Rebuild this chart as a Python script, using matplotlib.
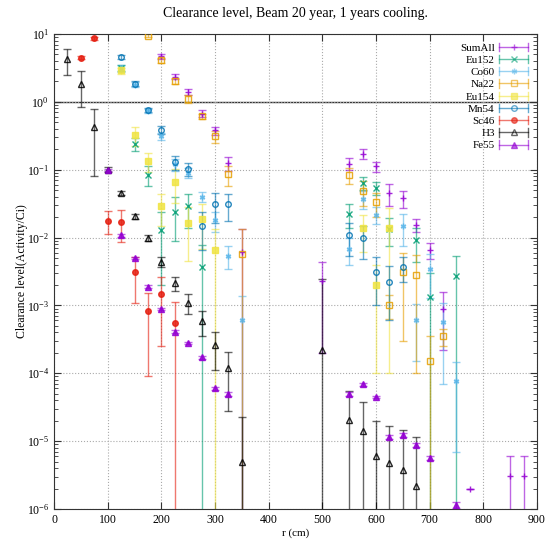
import numpy as np
import matplotlib
matplotlib.use('Agg')
import matplotlib.pyplot as plt
from matplotlib.lines import Line2D
from matplotlib.legend_handler import HandlerLine2D
from matplotlib.ticker import LogLocator, NullFormatter, MultipleLocator

# ---- data (r in cm, value, symmetric error) ----
sum_r = [200, 225, 250, 275, 300, 325, 350, 500, 550, 575, 600, 625, 650, 675, 700, 725, 775, 850, 875]
sum_v = [4.7, 2.35, 1.4, 0.67, 0.38, 0.125, 0.0062, 0.0023, 0.123, 0.172, 0.112, 0.045, 0.038,
         0.0155, 0.0065, 0.0009, 2.0e-6, 3.1e-6, 3.1e-6]
sum_e = [0.35, 0.2, 0.15, 0.08, 0.05, 0.03, 0.0072, 0.0021, 0.024, 0.028, 0.02, 0.016, 0.011,
         0.0035, 0.0017, 0.00068, 0.0, 3.0e-6, 3.0e-6]

eu152_r = [125, 150, 175, 200, 225, 250, 275, 550, 575, 600, 625, 675, 700, 750]
eu152_v = [3.2, 0.24, 0.085, 0.013, 0.024, 0.029, 0.0037, 0.0225, 0.064, 0.054, 0.0135, 0.0091, 0.00135, 0.0027]
eu152_e = [0.35, 0.05, 0.027, 0.011, 0.015, 0.015, 0.004, 0.0085, 0.013, 0.012, 0.006, 0.0047, 0.0017, 0.0027]

co60_r = [125, 150, 175, 200, 225, 250, 275, 300, 325, 350, 550, 575, 600, 650, 675, 700, 725, 750]
co60_v = [3.1, 1.8, 0.74, 0.31, 0.12, 0.09, 0.04, 0.018, 0.0054, 0.0006, 0.0069, 0.037, 0.0218,
          0.015, 0.0006, 0.0035, 0.00057, 0.000077]
co60_e = [0.35, 0.15, 0.05, 0.04, 0.025, 0.015, 0.007, 0.006, 0.002, 0.00077, 0.003, 0.011, 0.006,
          0.0075, 0.00045, 0.0022, 0.0005, 0.00007]

na22_r = [175, 200, 225, 250, 275, 300, 325, 350, 550, 575, 600, 625, 650, 675, 700, 725]
na22_v = [9.4, 4.1, 2.05, 1.12, 0.61, 0.31, 0.086, 0.0058, 0.084, 0.049, 0.033, 0.00103, 0.0031,
          0.0028, 0.00015, 0.00035]
na22_e = [0.5, 0.35, 0.2, 0.15, 0.06, 0.06, 0.028, 0.0076, 0.023, 0.02, 0.013, 0.0004, 0.0028,
          0.0027, 0.0002, 0.0001]

eu154_r = [125, 150, 175, 200, 225, 250, 275, 300, 575, 600, 625]
eu154_v = [2.9, 0.32, 0.134, 0.0296, 0.067, 0.0165, 0.0188, 0.0065, 0.0139, 0.002, 0.0139]
eu154_e = [0.3, 0.1, 0.04, 0.015, 0.035, 0.012, 0.012, 0.0068, 0.0078, 0.0019, 0.0138]

mn54_r = [125, 150, 175, 200, 225, 250, 275, 300, 325, 550, 575, 600, 625, 650]
mn54_v = [4.6, 1.85, 0.76, 0.39, 0.13, 0.103, 0.015, 0.031, 0.031, 0.0108, 0.0099, 0.0031, 0.0022, 0.0037]
mn54_e = [0.3, 0.15, 0.05, 0.05, 0.03, 0.022, 0.0085, 0.0145, 0.0135, 0.0055, 0.005, 0.0021, 0.0016, 0.0015]

sc46_r = [50, 75, 100, 125, 150, 175, 200, 225]
sc46_v = [4.5, 8.6, 0.0178, 0.0168, 0.0031, 0.00082, 0.00145, 0.00056]
sc46_e = [0.2, 0.3, 0.0065, 0.0083, 0.002, 0.00073, 0.0012, 0.00056]

h3_r = [25, 50, 75, 100, 125, 150, 175, 200, 225, 250, 275, 300, 325, 350,
        500, 550, 575, 600, 625, 650, 675]
h3_v = [4.3, 1.85, 0.43, 0.1, 0.0454, 0.0206, 0.0098, 0.0044, 0.00215, 0.0011, 0.00059, 0.00026,
        0.000118, 0.000005, 0.00022, 0.0000204, 0.0000141, 0.0000061, 0.0000047, 0.0000037, 0.0000022]
h3_e = [1.8, 1.0, 0.35, 0.008, 0.003, 0.0015, 0.001, 0.0007, 0.0005, 0.00035, 0.00023, 0.00015,
        0.00009, 0.000018, 0.0022, 0.000035, 0.000024, 0.000014, 0.000012, 0.000011, 0.0000093]

fe55_r = [100, 125, 150, 175, 200, 225, 250, 275, 300, 325, 550, 575, 600, 625, 650, 675, 700, 750]
fe55_v = [0.1, 0.0108, 0.005, 0.0019, 0.00089, 0.00041, 0.00028, 0.000173, 0.00006, 0.00005,
          0.00005, 0.000069, 0.0000447, 0.0000115, 0.0000123, 0.0000089, 0.0000056, 0.00000115]
fe55_e = [0.004, 0.0005, 0.0002, 0.0001, 0.00004, 0.00002, 0.00001, 0.000008, 0.000003, 0.000003,
          0.000003, 0.000003, 0.000002, 0.0000008, 0.0000008, 0.0000006, 0.0000004, 0.0000001]

series = [
    ('SumAll', sum_r, sum_v, sum_e, '#9400D3', '+', True),
    ('Eu152', eu152_r, eu152_v, eu152_e, '#009E73', 'x', True),
    ('Co60', co60_r, co60_v, co60_e, '#56B4E9', (6, 2, 0), True),
    ('Na22', na22_r, na22_v, na22_e, '#E69F00', 's', False),
    ('Eu154', eu154_r, eu154_v, eu154_e, '#F0E442', 's', True),
    ('Mn54', mn54_r, mn54_v, mn54_e, '#0072B2', 'o', False),
    ('Sc46', sc46_r, sc46_v, sc46_e, '#E51E10', 'o', True),
    ('H3', h3_r, h3_v, h3_e, 'black', '^', False),
    ('Fe55', fe55_r, fe55_v, fe55_e, '#9400D3', '^', True),
]

plt.rcParams['font.family'] = ['Liberation Serif', 'DejaVu Serif']
plt.rcParams['mathtext.fontset'] = 'stix'


class CapHandler(HandlerLine2D):
    # gnuplot style key: horizontal bar with caps at both ends
    def create_artists(self, legend, orig_handle, xdescent, ydescent, width, height, fontsize, trans):
        arts = super().create_artists(legend, orig_handle, xdescent, ydescent, width, height, fontsize, trans)
        y = height / 2.0 - ydescent
        for x in (-xdescent, width - xdescent):
            cap = Line2D([x, x], [y - 3, y + 3], color=orig_handle.get_color(),
                         alpha=orig_handle.get_alpha(), lw=1, transform=trans)
            arts.append(cap)
        return arts


fig = plt.figure(figsize=(5.45, 5.4), dpi=100)
ax = fig.add_axes([0.0991, 0.0574, 0.8862, 0.8796])
ax.set_yscale('log', nonpositive='clip')

handles = []
for name, r, v, e, col, mk, filled in series:
    v = np.array(v)
    e = np.array(e)
    ax.errorbar(r, v, yerr=e, fmt='none', ecolor=col, elinewidth=1, capsize=3,
                alpha=0.6, zorder=2)
    ax.plot(r, v, ls='none', marker=mk, ms=4, color=col,
            mfc=col if filled else 'none', mec=col, mew=1, alpha=0.85, zorder=3)
    h = Line2D([], [], color=col, lw=1, alpha=0.6, marker=mk, ms=4,
               mfc=col if filled else 'none', mec=col, mew=1)
    handles.append(h)

ax.axhline(1.0, color='#333333', lw=1, zorder=1)

ax.set_xlim(0, 900)
ax.set_ylim(1e-6, 10)
ax.xaxis.set_major_locator(MultipleLocator(100))
ax.yaxis.set_major_locator(LogLocator(base=10, numticks=20))
ax.yaxis.set_minor_locator(LogLocator(base=10, subs=np.arange(2, 10), numticks=20))
ax.yaxis.set_minor_formatter(NullFormatter())
ax.tick_params(which='both', direction='in', top=True, right=True, colors='#333333',
               labelcolor='black', labelsize=8.5)
ax.tick_params(which='major', length=5)
ax.tick_params(which='minor', length=3)
ax.grid(True, which='major', ls=':', color='#aaaaaa', lw=0.8)
for s in ax.spines.values():
    s.set_color('#333333')

ax.set_title('Clearance level, Beam 20 year, 1 years cooling.', fontsize=10, pad=12)
ax.set_xlabel('r (cm)', fontsize=8, labelpad=2)
ax.set_ylabel('Clearance level(Activity/Ci)', fontsize=8.5, labelpad=-1)

leg = ax.legend(handles, [s[0] for s in series], loc='upper right', frameon=False,
                markerfirst=False, fontsize=8, handlelength=2.6, labelspacing=0.22,
                handletextpad=0.4, borderaxespad=0.4,
                handler_map={Line2D: CapHandler()})

plt.savefig('out.png', dpi=100)
